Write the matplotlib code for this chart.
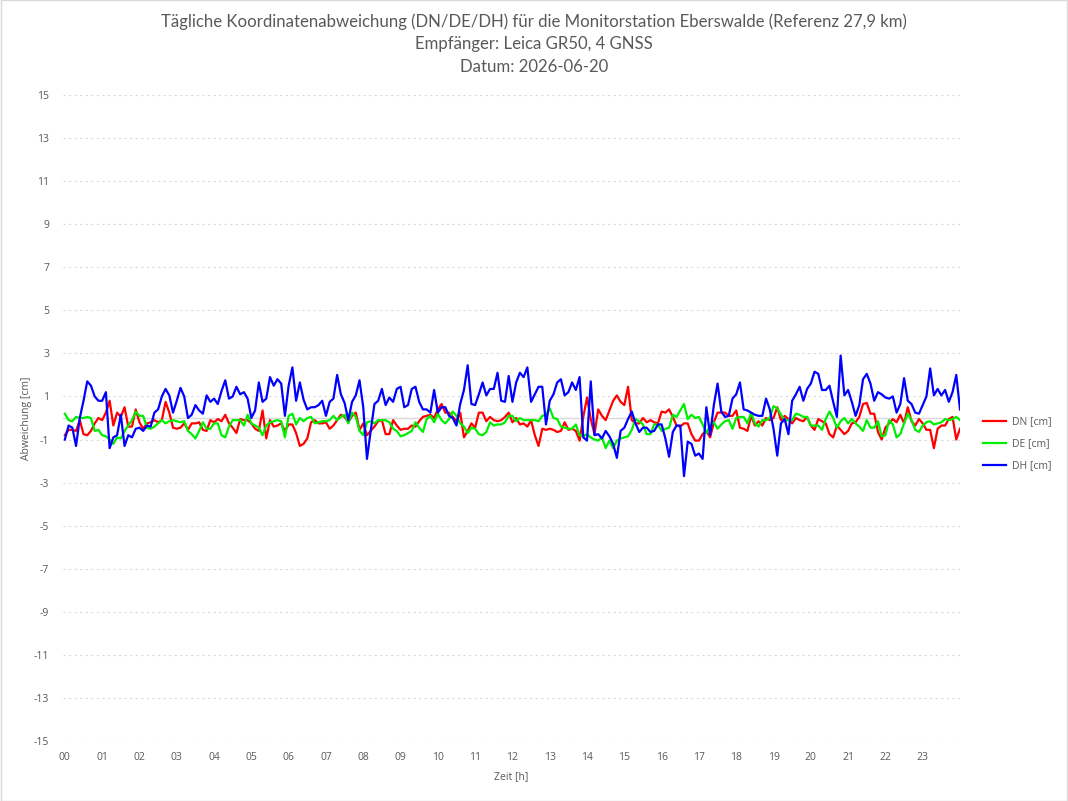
import matplotlib
matplotlib.use("Agg")
import matplotlib.pyplot as plt
import numpy as np
from matplotlib.patches import Rectangle

# ---- data (readings every 6 minutes, 00:00 - 24:00) ----
zeit_h = [i / 10 for i in range(241)]

dn_cm = [
    -0.8, -0.55, -0.55, -0.6, -0.1, -0.75, -0.8, -0.6, -0.25, 0.0,
    -0.1, 0.25, 0.8, -0.35, 0.25, 0.05, 0.5, -0.4, -0.4, 0.4,
    -0.2, -0.5, -0.25, -0.2, -0.1, -0.2, -0.1, 0.75, 0.25, -0.45,
    -0.5, -0.45, -0.25, -0.55, -0.25, -0.25, -0.2, -0.55, -0.6, -0.1,
    -0.2, -0.05, -0.15, 0.15, -0.25, -0.45, -0.7, -0.05, -0.1, -0.1,
    -0.25, -0.5, -0.6, 0.35, -0.95, -0.1, -0.4, -0.35, -0.25, -0.6,
    -0.3, -0.3, -0.7, -1.3, -1.2, -0.95, -0.2, -0.1, -0.25, -0.25,
    -0.2, -0.5, -0.35, -0.1, 0.15, 0.05, -0.2, 0.1, 0.25, -0.55,
    -0.25, -0.8, -0.6, -0.4, -0.15, -0.1, -0.75, -0.75, -0.1, -0.35,
    -0.55, -0.5, -0.5, -0.35, -0.4, -0.15, 0.05, 0.1, 0.15, 0.0,
    0.4, 0.65, 0.25, 0.25, 0.05, -0.15, 0.25, -0.9, -0.6, -0.25,
    -0.45, 0.25, 0.25, -0.15, 0.05, -0.1, -0.15, -0.1, 0.05, 0.25,
    -0.2, 0.0, -0.3, -0.25, -0.4, -0.1, -0.8, -1.3, -0.5, -0.55,
    -0.5, -0.55, -0.65, -0.6, -0.2, -0.55, -0.5, -0.6, -1.05, 0.05,
    0.95, -0.05, -0.75, 0.4, 0.1, -0.1, 0.35, 0.8, 1.05, 0.75,
    0.6, 1.45, -0.1, -0.25, -0.25, 0.0, -0.2, -0.1, -0.2, -0.25,
    0.3, 0.25, 0.4, 0.05, -0.35, -0.4, -0.25, -0.25, -0.75, -1.05,
    -1.05, -0.75, -0.6, -0.9, -0.2, 0.25, 0.25, 0.25, 0.1, 0.1,
    0.35, -0.45, -0.5, -0.6, 0.1, -0.35, -0.15, -0.35, 0.0, -0.1,
    0.0, 0.5, -0.1, 0.1, -0.05, -0.25, 0.0, -0.1, -0.15, 0.05,
    -0.35, -0.55, -0.05, -0.15, -0.25, -0.75, -0.9, -0.35, -0.55, -0.75,
    -0.6, -0.25, -0.2, 0.05, 0.65, 0.7, 0.2, 0.2, -0.65, -1.0,
    -0.45, -0.25, -0.05, -0.2, 0.15, -0.25, 0.5, -0.15, -0.35, -0.05,
    -0.25, -0.55, -0.55, -1.4, -0.5, -0.35, -0.35, -0.05, 0.05, -1.0, -0.5,
]

de_cm = [
    0.2, -0.1, -0.15, 0.05, 0.0, 0.0, 0.05, 0.0, -0.6, -0.55,
    -0.8, -0.85, -1.0, -1.2, -0.9, -0.95, -0.6, -0.35, -0.1, 0.3,
    0.1, 0.1, -0.45, -0.5, -0.4, -0.25, -0.1, -0.25, -0.15, -0.1,
    -0.15, -0.2, -0.15, -0.6, -0.75, -0.95, -0.6, -0.2, -0.5, -0.5,
    -0.25, -0.25, -0.8, -0.9, -0.4, -0.1, -0.1, -0.1, -0.35, 0.15,
    -0.25, -0.35, -0.45, -0.8, -0.35, -0.2, -0.15, -0.1, -0.15, -0.9,
    0.1, 0.2, -0.3, 0.0, -0.15, 0.0, 0.05, -0.25, -0.2, -0.15,
    -0.15, -0.1, 0.1, -0.1, 0.05, 0.15, -0.25, 0.25, 0.05, -0.6,
    -0.8, -0.2, -0.15, -0.25, -0.1, -0.1, -0.1, -0.2, -0.5, -0.6,
    -0.85, -0.8, -0.7, -0.6, -0.2, -0.45, -0.65, -0.05, 0.1, -0.2,
    0.2, -0.1, -0.25, -0.05, 0.3, 0.1, -0.25, -0.4, -0.7, -0.45,
    -0.5, -0.75, -0.8, -0.65, -0.2, -0.35, -0.3, -0.3, -0.2, 0.1,
    0.1, -0.15, 0.0, -0.1, -0.1, -0.1, -0.1, -0.15, 0.1, 0.15,
    0.45, 0.0, -0.05, -0.4, -0.45, -0.5, -0.5, -0.3, -0.8, -0.85,
    -0.75, -0.9, -1.0, -1.05, -0.9, -1.4, -1.05, -1.4, -1.05, -0.95,
    -0.9, -0.85, -0.55, -0.05, -0.15, -0.3, -0.75, -0.75, -0.3, -0.3,
    -0.6, -0.5, -0.45, 0.15, 0.05, 0.35, 0.65, -0.05, 0.15, 0.0,
    0.05, -0.3, -0.7, -0.35, -0.2, -0.5, -0.3, -0.15, -0.1, -0.5,
    0.0, 0.05, 0.05, -0.25, 0.25, -0.25, -0.4, -0.1, -0.1, 0.0,
    0.55, 0.45, 0.15, -0.1, -0.1, -0.1, 0.2, 0.15, 0.05, 0.05,
    -0.35, -0.35, -0.35, -0.55, -0.05, 0.3, 0.0, -0.45, -0.15, 0.0,
    -0.25, -0.05, -0.25, -0.4, -0.6, -0.1, -0.45, -0.45, -0.15, -0.85,
    -0.8, -0.1, -0.3, -0.9, -0.75, -0.25, 0.2, -0.1, -0.55, -0.65,
    -0.35, -0.2, -0.15, -0.3, -0.25, -0.2, -0.05, -0.1, -0.05, 0.05, -0.1,
]

dh_cm = [
    -1.0, -0.35, -0.45, -1.3, 0.0, 0.8, 1.7, 1.5, 1.0, 0.8,
    0.8, 1.2, -1.4, -0.9, -0.8, 0.15, -1.3, -0.8, -0.9, -0.5,
    -0.45, -0.6, -0.35, -0.4, 0.25, 0.4, 1.0, 1.35, 1.05, 0.25,
    0.8, 1.4, 1.0, 0.0, 0.15, 0.6, 0.35, 0.2, 1.05, 0.75,
    0.9, 0.65, 1.25, 1.75, 0.9, 1.0, 1.45, 1.1, 1.2, 0.9,
    0.0, 0.35, 1.65, 0.75, 0.9, 1.9, 1.5, 1.8, 1.6, 0.1,
    1.5, 2.35, 0.8, 1.65, 0.85, 0.4, 0.5, 0.5, 0.6, 0.8,
    0.1, 0.75, 0.9, 2.0, 1.1, 0.7, -0.1, 0.75, 1.05, 1.75,
    0.5, -1.9, -0.6, 0.65, 0.8, 1.35, 0.6, 0.95, 0.75, 1.35,
    1.45, 0.5, 0.6, 1.35, 1.45, 0.75, 0.4, 0.4, 0.25, 1.3,
    0.25, 0.5, 0.5, 0.1, 0.0, -0.35, 0.65, 1.3, 2.45, 0.65,
    0.6, 1.1, 1.65, 1.05, 1.35, 1.35, 2.1, 0.8, 0.75, 1.95,
    0.75, 1.65, 2.1, 1.9, 2.35, 0.75, 1.1, 1.45, 1.45, -0.3,
    0.8, 1.1, 1.65, 1.8, 1.05, 1.2, 1.65, 1.3, 1.9, -0.9,
    -1.05, 1.7, -0.8, -0.75, -0.95, -0.6, -0.85, -1.2, -1.85, -0.6,
    -0.45, -0.05, 0.3, -0.25, -0.65, -0.45, -0.45, -0.65, -0.6, -0.3,
    -0.3, -0.95, -1.8, -0.65, -0.35, -0.35, -2.7, -1.1, -1.2, -1.75,
    -1.65, -1.9, 0.5, -0.8, 0.6, 1.6, 0.3, 0.05, 0.1, 0.9,
    1.1, 1.65, 0.4, 0.35, 0.25, 0.15, 0.1, 0.1, 0.9, 0.4,
    -0.5, -1.75, -0.25, -0.05, -0.75, 0.8, 1.1, 1.45, 0.8, 1.35,
    1.6, 2.15, 2.05, 1.3, 1.3, 1.5, 0.75, 0.05, 2.9, 1.05,
    1.3, 0.75, 0.1, 0.6, 1.8, 2.05, 1.6, 0.8, 1.2, 1.1,
    0.95, 0.9, 1.0, 0.25, 0.65, 1.85, 0.8, 0.65, 0.25, 0.2,
    0.6, 1.0, 2.3, 1.05, 1.35, 1.05, 1.3, 0.75, 1.2, 2.0, 0.4,
]

series_names = ["DN [cm]", "DE [cm]", "DH [cm]"]
series_colors = ["#FF0000", "#00EE00", "#0000FF"]
y_ticks = list(range(-15, 16, 2))
x_ticks = list(range(0, 24))
x_ticklabels = [f"{h:02d}" for h in x_ticks]

title_lines = [
    "Tägliche Koordinatenabweichung (DN/DE/DH) für die Monitorstation Eberswalde (Referenz 27,9 km)",
    "Empfänger: Leica GR50, 4 GNSS",
    "Datum: 2026-06-20",
]

# ---- figure ----
plt.rcParams["font.family"] = ["Open Sans", "DejaVu Sans"]
fig = plt.figure(figsize=(10.68, 8.01), dpi=100)
fig.patches.append(Rectangle((0.0005, 0.0005), 0.999, 0.999, transform=fig.transFigure,
                             fill=False, edgecolor="#D9D9D9", linewidth=1.0))

W, H = 1068, 801
left, right, top, bottom = 63, 960, 95, 741
ax = fig.add_axes([left / W, 1 - bottom / H, (right - left) / W, (bottom - top) / H])

grey = "#595959"
for name, col, vals in zip(series_names, series_colors, [dn_cm, de_cm, dh_cm]):
    ax.plot(zeit_h, vals, color=col, linewidth=1.6, label=name, solid_joinstyle="round")

ax.set_xlim(-0.05, 24.0)
ax.set_ylim(-15, 15)
ax.set_yticks(y_ticks)
ax.set_yticklabels([str(t) for t in y_ticks])
ax.set_xticks(x_ticks)
ax.set_xticklabels(x_ticklabels)
ax.tick_params(axis="both", length=0, labelsize=7.5, labelcolor=grey)
ax.tick_params(axis="y", pad=10)
ax.tick_params(axis="x", pad=8)
ax.grid(axis="y", color="#D9D9D9", linestyle=(0, (2, 3)), linewidth=0.8)
ax.axhline(0, color="#D9D9D9", linewidth=1.0, zorder=0.5)
for s in ax.spines.values():
    s.set_visible(False)
ax.set_axisbelow(True)

ax.set_xlabel("Zeit [h]", fontsize=7.5, color=grey, labelpad=6)
ax.set_ylabel("Abweichung [cm]", fontsize=7.5, color=grey, labelpad=1)

for i, line in enumerate(title_lines):
    fig.text(0.5, 1 - (22 + 22.5 * i) / H, line, ha="center", va="center",
             fontsize=12.1, color=grey, family=["Lato", "DejaVu Sans"])

leg = ax.legend(loc="center left", bbox_to_anchor=(1.015, 0.46), frameon=False,
                fontsize=7.5, labelcolor=grey, handlelength=2.2, labelspacing=1.05,
                handletextpad=0.6)

fig.savefig("out.png", dpi=100)
